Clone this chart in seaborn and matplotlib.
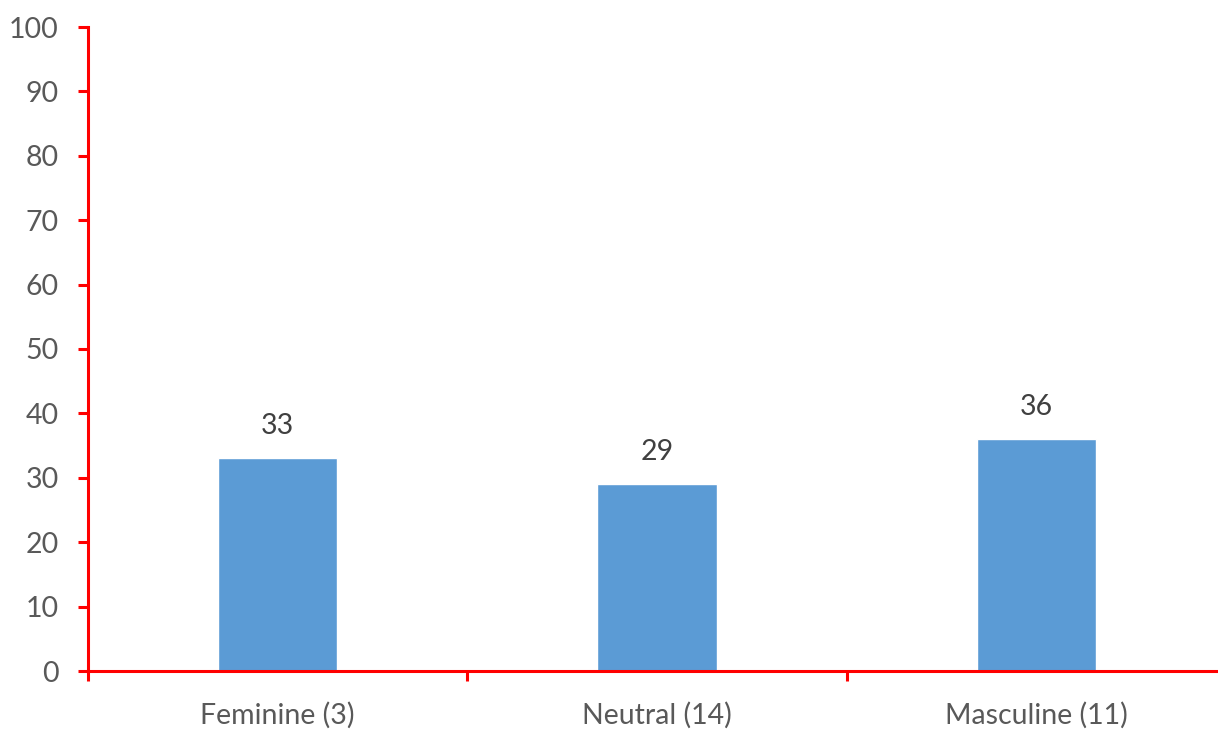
import matplotlib
matplotlib.use("Agg")
import matplotlib.pyplot as plt
import seaborn as sns
import pandas as pd

categories = ["Feminine (3)", "Neutral (14)", "Masculine (11)"]
values = [33, 29, 36]
y_ticks = [0, 10, 20, 30, 40, 50, 60, 70, 80, 90, 100]

sns.set_style("white")
plt.rcParams["font.family"] = ["Lato", "DejaVu Sans"]

df = pd.DataFrame({"category": categories, "value": values})

fig = plt.figure(figsize=(12.18, 7.29), dpi=100)
ax = fig.add_axes([88 / 1218, 1 - 671 / 729, 1138 / 1218, 644 / 729])

sns.barplot(data=df, x="category", y="value", color="#5B9BD5", width=0.315,
            saturation=1, ax=ax, zorder=2)

ax.set_xlim(-0.5, 2.5)
ax.set_ylim(0, 100)
ax.set_yticks(y_ticks)
ax.set_xlabel("")
ax.set_ylabel("")

for s in ["top", "right"]:
    ax.spines[s].set_visible(False)
for s in ["left", "bottom"]:
    ax.spines[s].set_color("#FF0000")
    ax.spines[s].set_linewidth(2.2)
    ax.spines[s].set_zorder(3)

# Category boundary ticks on the x-axis, labels centred under bars
ax.set_xticks([-0.5, 0.5, 1.5, 2.5])
ax.set_xticklabels([])
ax.set_xticks([0, 1, 2], minor=True)
ax.set_xticklabels(categories, minor=True)
ax.tick_params(axis="x", which="major", direction="out", length=7, width=2.2,
               color="#FF0000", bottom=True)
ax.tick_params(axis="x", which="minor", length=0, pad=22, labelsize=20.5,
               labelcolor="#595959")
ax.tick_params(axis="y", direction="out", length=7, width=2.2, color="#FF0000",
               left=True, pad=14, labelsize=20.5, labelcolor="#595959")

for i, v in enumerate(values):
    ax.text(i, v + 3.0, f"{v}", ha="center", va="bottom", fontsize=20.5,
            color="#404040")

fig.savefig("out.png", dpi=100)
